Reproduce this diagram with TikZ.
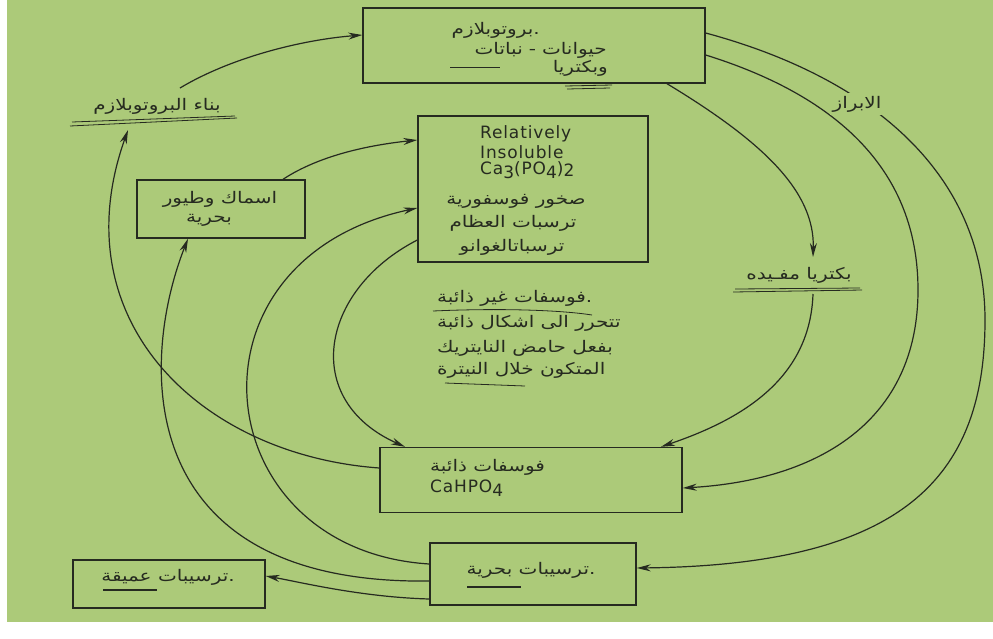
\documentclass[tikz,border=0pt]{standalone}
\usepackage{fontspec}
\TeXXeTstate=1
\newfontfamily\ar[Script=Arabic,FakeStretch=1.25]{DejaVu Sans}
\newfontfamily\en[LetterSpace=5]{DejaVu Sans}
\usetikzlibrary{arrows.meta,calc}
\definecolor{bg}{RGB}{172,202,121}
\definecolor{ink}{RGB}{38,42,32}
\tikzset{
  box/.style={draw=ink,line width=1.4pt,rectangle,inner sep=0pt},
  conn/.style={draw=ink,line width=1.2pt,-{Stealth[length=14pt,width=7pt]}},
  artext/.style={text=ink,font=\ar\fontsize{16}{18}\selectfont,inner sep=0pt},
  entext/.style={text=ink,font=\en\fontsize{17}{19}\selectfont,inner sep=0pt,anchor=west},
  penline/.style={draw=ink,line width=0.8pt},
  thickpen/.style={draw=ink,line width=2.6pt},
}
\begin{document}
\begin{tikzpicture}[x=1pt,y=-1pt]
\useasboundingbox (0,0) rectangle (993,638);
\fill[white] (0,0) rectangle (993,638);
\fill[bg] (7,0) rectangle (993,622);

% boxes
\node[box,minimum width=342pt,minimum height=75pt] (proto) at (534,45.5) {};
\node[box,minimum width=230pt,minimum height=146pt] (insol) at (533,189) {};
\node[box,minimum width=168pt,minimum height=58pt] (fish) at (221,209) {};
\node[box,minimum width=302pt,minimum height=65pt] (cahpo) at (531,480) {};
\node[box,minimum width=206pt,minimum height=62pt] (marine) at (533,574) {};
\node[box,minimum width=192pt,minimum height=48pt] (deep) at (169,584) {};

% box texts
\node[artext,anchor=east] (pt1) at (540,30) {\beginR بروتوبلازم\endR.};
\node[artext,anchor=east] (pt2) at (607,50) {\beginR حيوانات\hspace{6pt}-\hspace{6pt}نباتات\endR};
\node[artext,anchor=east] (pt3) at (608,68) {\beginR وبكتريا\endR};

\node[entext] (it1) at (480,134) {Relatively};
\node[entext] (it2) at (480,152) {Insoluble};
\node[entext] (it3) at (480,170) {Ca\raisebox{-4pt}{3}(PO\raisebox{-4pt}{4})\raisebox{-2pt}{2}};
\node[artext] (it4) at (516,201) {\beginR صخور فوسفورية\endR};
\node[artext] (it5) at (513,223) {\beginR ترسبات العظام\endR};
\node[artext] (it6) at (512,247) {\beginR ترسباتالغوانو\endR};

\node[artext] (ft1) at (220,199) {\beginR اسماك وطيور\endR};
\node[artext] (ft2) at (209,220) {\beginR بحرية\endR};

\node[artext,anchor=west] (ct1) at (430,467) {\beginR فوسفات ذائبة\endR};
\node[entext] (ct2) at (430,488) {CaHPO\raisebox{-4pt}{4}};

\node[artext] (mt) at (531,570) {\beginR ترسيبات بحرية\endR.};
\node[artext] (dt) at (168,577) {\beginR ترسيبات عميقة\endR.};

% free labels
\node[artext] (build) at (157,106) {\beginR بناء البروتوبلازم\endR};
\node[artext] (bact) at (799,275) {\beginR بكتريا مفـيده\endR};
\node[artext,anchor=west] (c1) at (437,298) {\beginR فوسفات غير ذائبة\endR.};
\node[artext,anchor=west] (c2) at (437,323) {\beginR تتحرر الى اشكال ذائبة\endR};
\node[artext,anchor=west] (c3) at (437,348) {\beginR بفعل حامض النايتريك\endR};
\node[artext,anchor=west] (c4) at (437,370) {\beginR المتكون خلال النيترة\endR};

% connector end points
\coordinate (buildtop) at (180,88);
\coordinate (buildbot) at (128,130);
\coordinate (bacttop) at (813,257);
\coordinate (bactbot) at (813,294);

% connectors
\draw[conn] (buildtop) .. controls (230,58) and (300,40) .. ($(proto.west)+(0,-10.5)$);
\draw[conn] ($(cahpo.west)+(0,-12)$) .. controls (200,455) and (60,320) .. (buildbot);
\draw[conn] ($(marine.west)+(0,7)$) .. controls (130,585) and (140,360) .. ($(fish.south)+(-33,0)$);
\draw[conn] ($(marine.west)+(0,-10)$) .. controls (205,550) and (175,260) .. ($(insol.west)+(0,19)$);
\draw[conn] ($(marine.west)+(0,25)$) .. controls (360,597) and (300,582) .. ($(deep.east)+(0,-8)$);
\draw[conn] ($(fish.north)+(62,0)$) .. controls (320,155) and (370,145) .. ($(insol.west)+(0,-49)$);
\draw[conn] ($(insol.west)+(0,51)$) .. controls (320,290) and (300,400) .. ($(cahpo.north)+(-126,0)$);
\draw[conn] ($(proto.east)+(0,-12.5)$) .. controls (880,80) and (985,180) .. (985,320) .. controls (985,480) and (900,565) .. ($(marine.east)+(0,-6)$);
\draw[conn] ($(proto.east)+(0,9.5)$) .. controls (850,100) and (918,180) .. (918,290) .. controls (918,420) and (820,480) .. ($(cahpo.east)+(0,8)$);
\draw[conn] ($(proto.south)+(133,0)$) .. controls (760,140) and (815,190) .. (bacttop);
\draw[conn] (bactbot) .. controls (810,380) and (740,420) .. ($(cahpo.north)+(130,0)$);

\node[artext,fill=bg,inner sep=3pt] (ibraz) at (857,104) {\beginR الابراز\endR};

% pen underlines
\draw[penline] (70,126) -- (237,118);
\draw[penline] (72,122) -- (235,116);
\draw[penline] (733,292) -- (862,290);
\draw[penline] (735,289) -- (860,288);
\draw[thickpen] (467,587) -- (521,587);
\draw[thickpen] (103,590) -- (157,590);
\draw[penline] (450,67) -- (500,67);
\draw[penline] (565,86) -- (612,85);
\draw[penline] (567,89) -- (610,88);
\draw[penline] (433,311) .. controls (500,308) and (560,310) .. (592,315);
\draw[penline] (445,383) -- (525,386);
\end{tikzpicture}
\end{document}
